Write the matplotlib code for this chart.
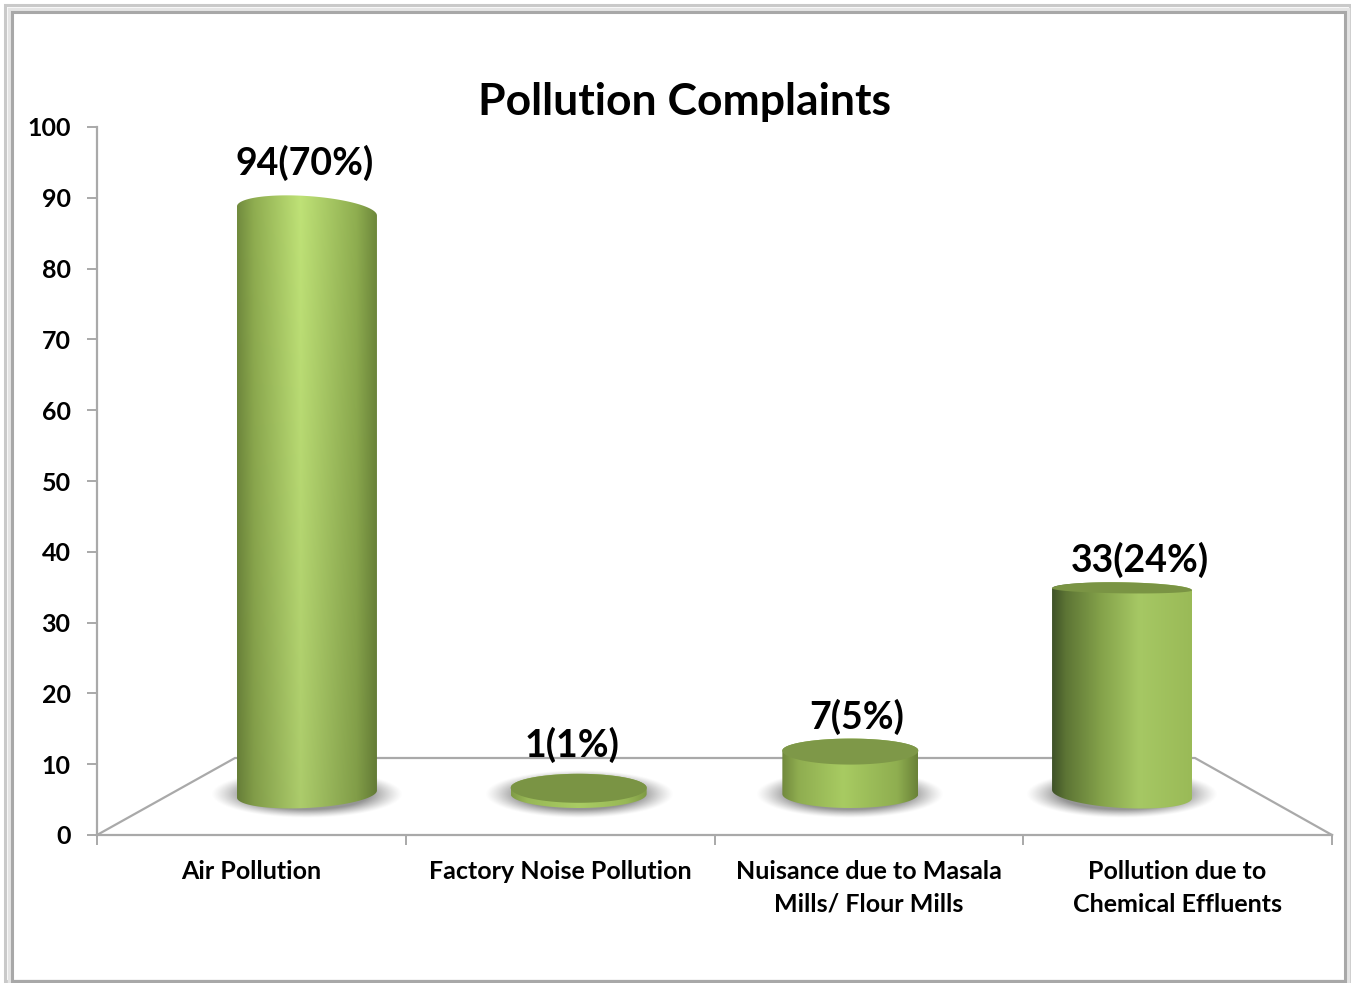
import numpy as np
import matplotlib.pyplot as plt
from matplotlib.patches import Polygon, Rectangle
from matplotlib.colors import to_rgb

plt.rcParams['font.family'] = ['Lato', 'DejaVu Sans']
plt.rcParams['font.weight'] = 'bold'

# Data
categories = ['Air Pollution', 'Factory Noise Pollution',
              'Nuisance due to Masala\nMills/ Flour Mills',
              'Pollution due to\nChemical Effluents']
values = [94, 1, 7, 33]
labels = ['94(70%)', '1(1%)', '7(5%)', '33(24%)']
y_ticks = list(range(0, 101, 10))

W, H = 1351, 983
fig = plt.figure(figsize=(W / 100, H / 100), dpi=100, facecolor='white')
ax = fig.add_axes([97 / W, 1 - 835 / H, (1332 - 97) / W, (835 - 127) / H])
ax.set_xlim(0, 4)
ax.set_ylim(0, 100)

# size of one pixel in data units
PX = 4 / (1332 - 97)
PY = 100 / (835 - 127)

# the bars stand in the middle of the 3d floor, so they are squeezed a bit
X_SQUEEZE = 0.88
Y_SQUEEZE = 0.876
FLOOR_Y = 41 * PY


def bar_x(i):
    return 2 + (i + 0.5 - 2) * X_SQUEEZE


def bar_y(v):
    return FLOOR_Y + v * Y_SQUEEZE


def arc(xc, yc, rx, ry, t0, t1, tilt=0):
    # tilt in data units: how far the right end sits below the centre
    t = np.linspace(t0, t1, 60)
    return np.column_stack([xc + rx * np.cos(t), yc + ry * np.sin(t) - tilt * np.cos(t)])


# Floor
grey = '#a9a9a9'
back_y = 77 * PY
ax.plot([0, 138 * PX, 4 - 137 * PX, 4], [0, back_y, back_y, 0], color=grey, lw=1.6,
        solid_joinstyle='miter', zorder=1, clip_on=False)

# Per bar styling: half width, lid up/down bulge (px), tilt of top and base (px), body gradient stops
half_w = [70, 68, 68, 70]
lid_up = [15, 14, 12, 7]
lid_low = [0, 15, 14, 4]
top_tilt = [4.5, 0, 0, 1]
base_tilt = [-3.5, 0, 0, 4]
base_ry = 14
lid_col = ['#7a9444', '#7a9444', '#7e9848', '#7a9444']
fade_low = [0.9, 1, 1, 1]
stops = [
    ([0, 0.12, 0.45, 0.85, 1], ['#718b3e', '#8fad50', '#bfe277', '#8fae50', '#6c863a']),
    ([0, 0.12, 0.5, 0.85, 1], ['#7f9b45', '#98b856', '#a9cc63', '#98b856', '#7f9b45']),
    ([0, 0.12, 0.45, 0.85, 1], ['#71893d', '#8fad50', '#a8cb62', '#8fae50', '#6a8238']),
    ([0, 0.1, 0.35, 0.62, 1], ['#3f5228', '#5d7535', '#84a24a', '#a6c864', '#9aba57']),
]

for i, (v, lab) in enumerate(zip(values, labels)):
    xc = bar_x(i)
    yb = FLOOR_Y
    yt = bar_y(v)
    rx = half_w[i] * PX

    # blurred shadow on the floor
    sx = np.linspace(-1, 1, 200)
    sy = np.linspace(-1, 1, 100)
    xx, yy = np.meshgrid(sx, sy)
    rr = np.sqrt(xx ** 2 + yy ** 2)
    alpha = np.clip((1 - rr) / 0.35, 0, 1) ** 1.2 * 0.72
    rgba = np.zeros((100, 200, 4))
    rgba[..., :3] = 0.42
    rgba[..., 3] = alpha
    ax.imshow(rgba, extent=[xc - rx - 26 * PX, xc + rx + 26 * PX, yb - 24 * PY, yb + 24 * PY],
              aspect='auto', origin='lower', zorder=2, interpolation='bilinear')

    # cylinder body with horizontal gradient, a bit lighter to the top on tall bars
    pos, cols = stops[i]
    cols = np.array([to_rgb(c) for c in cols])
    t = np.linspace(0, 1, 300)
    row = np.column_stack([np.interp(t, pos, cols[:, k]) for k in range(3)])
    fade = np.linspace(fade_low[i], 1, 200)[:, np.newaxis, np.newaxis]
    grad = np.repeat(row[np.newaxis, :, :], 200, axis=0) * fade
    ymax = yt + (lid_up[i] + 6) * PY
    ymin = yb - (base_ry + 6) * PY
    body = np.vstack([
        arc(xc, yb, rx, base_ry * PY, np.pi, 2 * np.pi, base_tilt[i] * PY),
        arc(xc, yt, rx, lid_up[i] * PY, 0, np.pi, top_tilt[i] * PY),
    ])
    im = ax.imshow(grad, extent=[xc - rx, xc + rx, ymin, ymax], aspect='auto',
                   origin='lower', zorder=3, interpolation='bilinear')
    im.set_clip_path(Polygon(body, closed=True, transform=ax.transData))

    # lid
    if lid_low[i] > 0:
        lid = np.vstack([
            arc(xc, yt, rx, lid_up[i] * PY, 0, np.pi, top_tilt[i] * PY),
            arc(xc, yt, rx, lid_low[i] * PY, np.pi, 2 * np.pi, top_tilt[i] * PY),
        ])
        ax.add_patch(Polygon(lid, closed=True, facecolor=lid_col[i], edgecolor='none', zorder=4))

ax.set_xlim(0, 4)
ax.set_ylim(0, 100)

# Value labels
label_dx = [-2, -7, 6, 18]
label_dy = [48, 43, 34, 29]
for i, (v, lab) in enumerate(zip(values, labels)):
    ax.annotate(lab, (bar_x(i), bar_y(v)), xytext=(label_dx[i], label_dy[i]),
                textcoords='offset pixels', ha='center', va='center',
                fontsize=27, color='black', zorder=6, annotation_clip=False)

# Axes
for s in ['top', 'right']:
    ax.spines[s].set_visible(False)
for s in ['left', 'bottom']:
    ax.spines[s].set_color(grey)
    ax.spines[s].set_linewidth(1.6)
ax.patch.set_alpha(0)
ax.set_yticks(y_ticks)
ax.set_xticks(range(5))
ax.set_xticklabels([])
ax.set_xticks([0.5, 1.5, 2.5, 3.5], minor=True)
ax.set_xticklabels(categories, minor=True, fontsize=18, linespacing=1.5, va='top')
ax.tick_params(axis='y', labelsize=18, length=7, width=1.4, color=grey, pad=12)
ax.tick_params(axis='x', which='major', length=7, width=1.4, color=grey)
ax.tick_params(axis='x', which='minor', length=0, pad=18)

fig.text(685 / W, 1 - 102 / H, 'Pollution Complaints', ha='center', va='center',
         fontsize=32, color='black')

# Double frame of the screenshot, cut at the lower edge
for (x0, y0, x1, y1, col_, lw) in [(5, 5, 1350, 981, '#c9c9c9', 2.2),
                                   (8.5, 8.5, 1347.5, 981, '#e4e4e4', 2.5),
                                   (12, 12, 1345, 981, '#a8a8a8', 2.2)]:
    fig.add_artist(Rectangle((x0 / W, 1 - y1 / H), (x1 - x0) / W, (y1 - y0) / H, fill=False,
                             edgecolor=col_, linewidth=lw, transform=fig.transFigure))

plt.savefig('out.png', dpi=100)
